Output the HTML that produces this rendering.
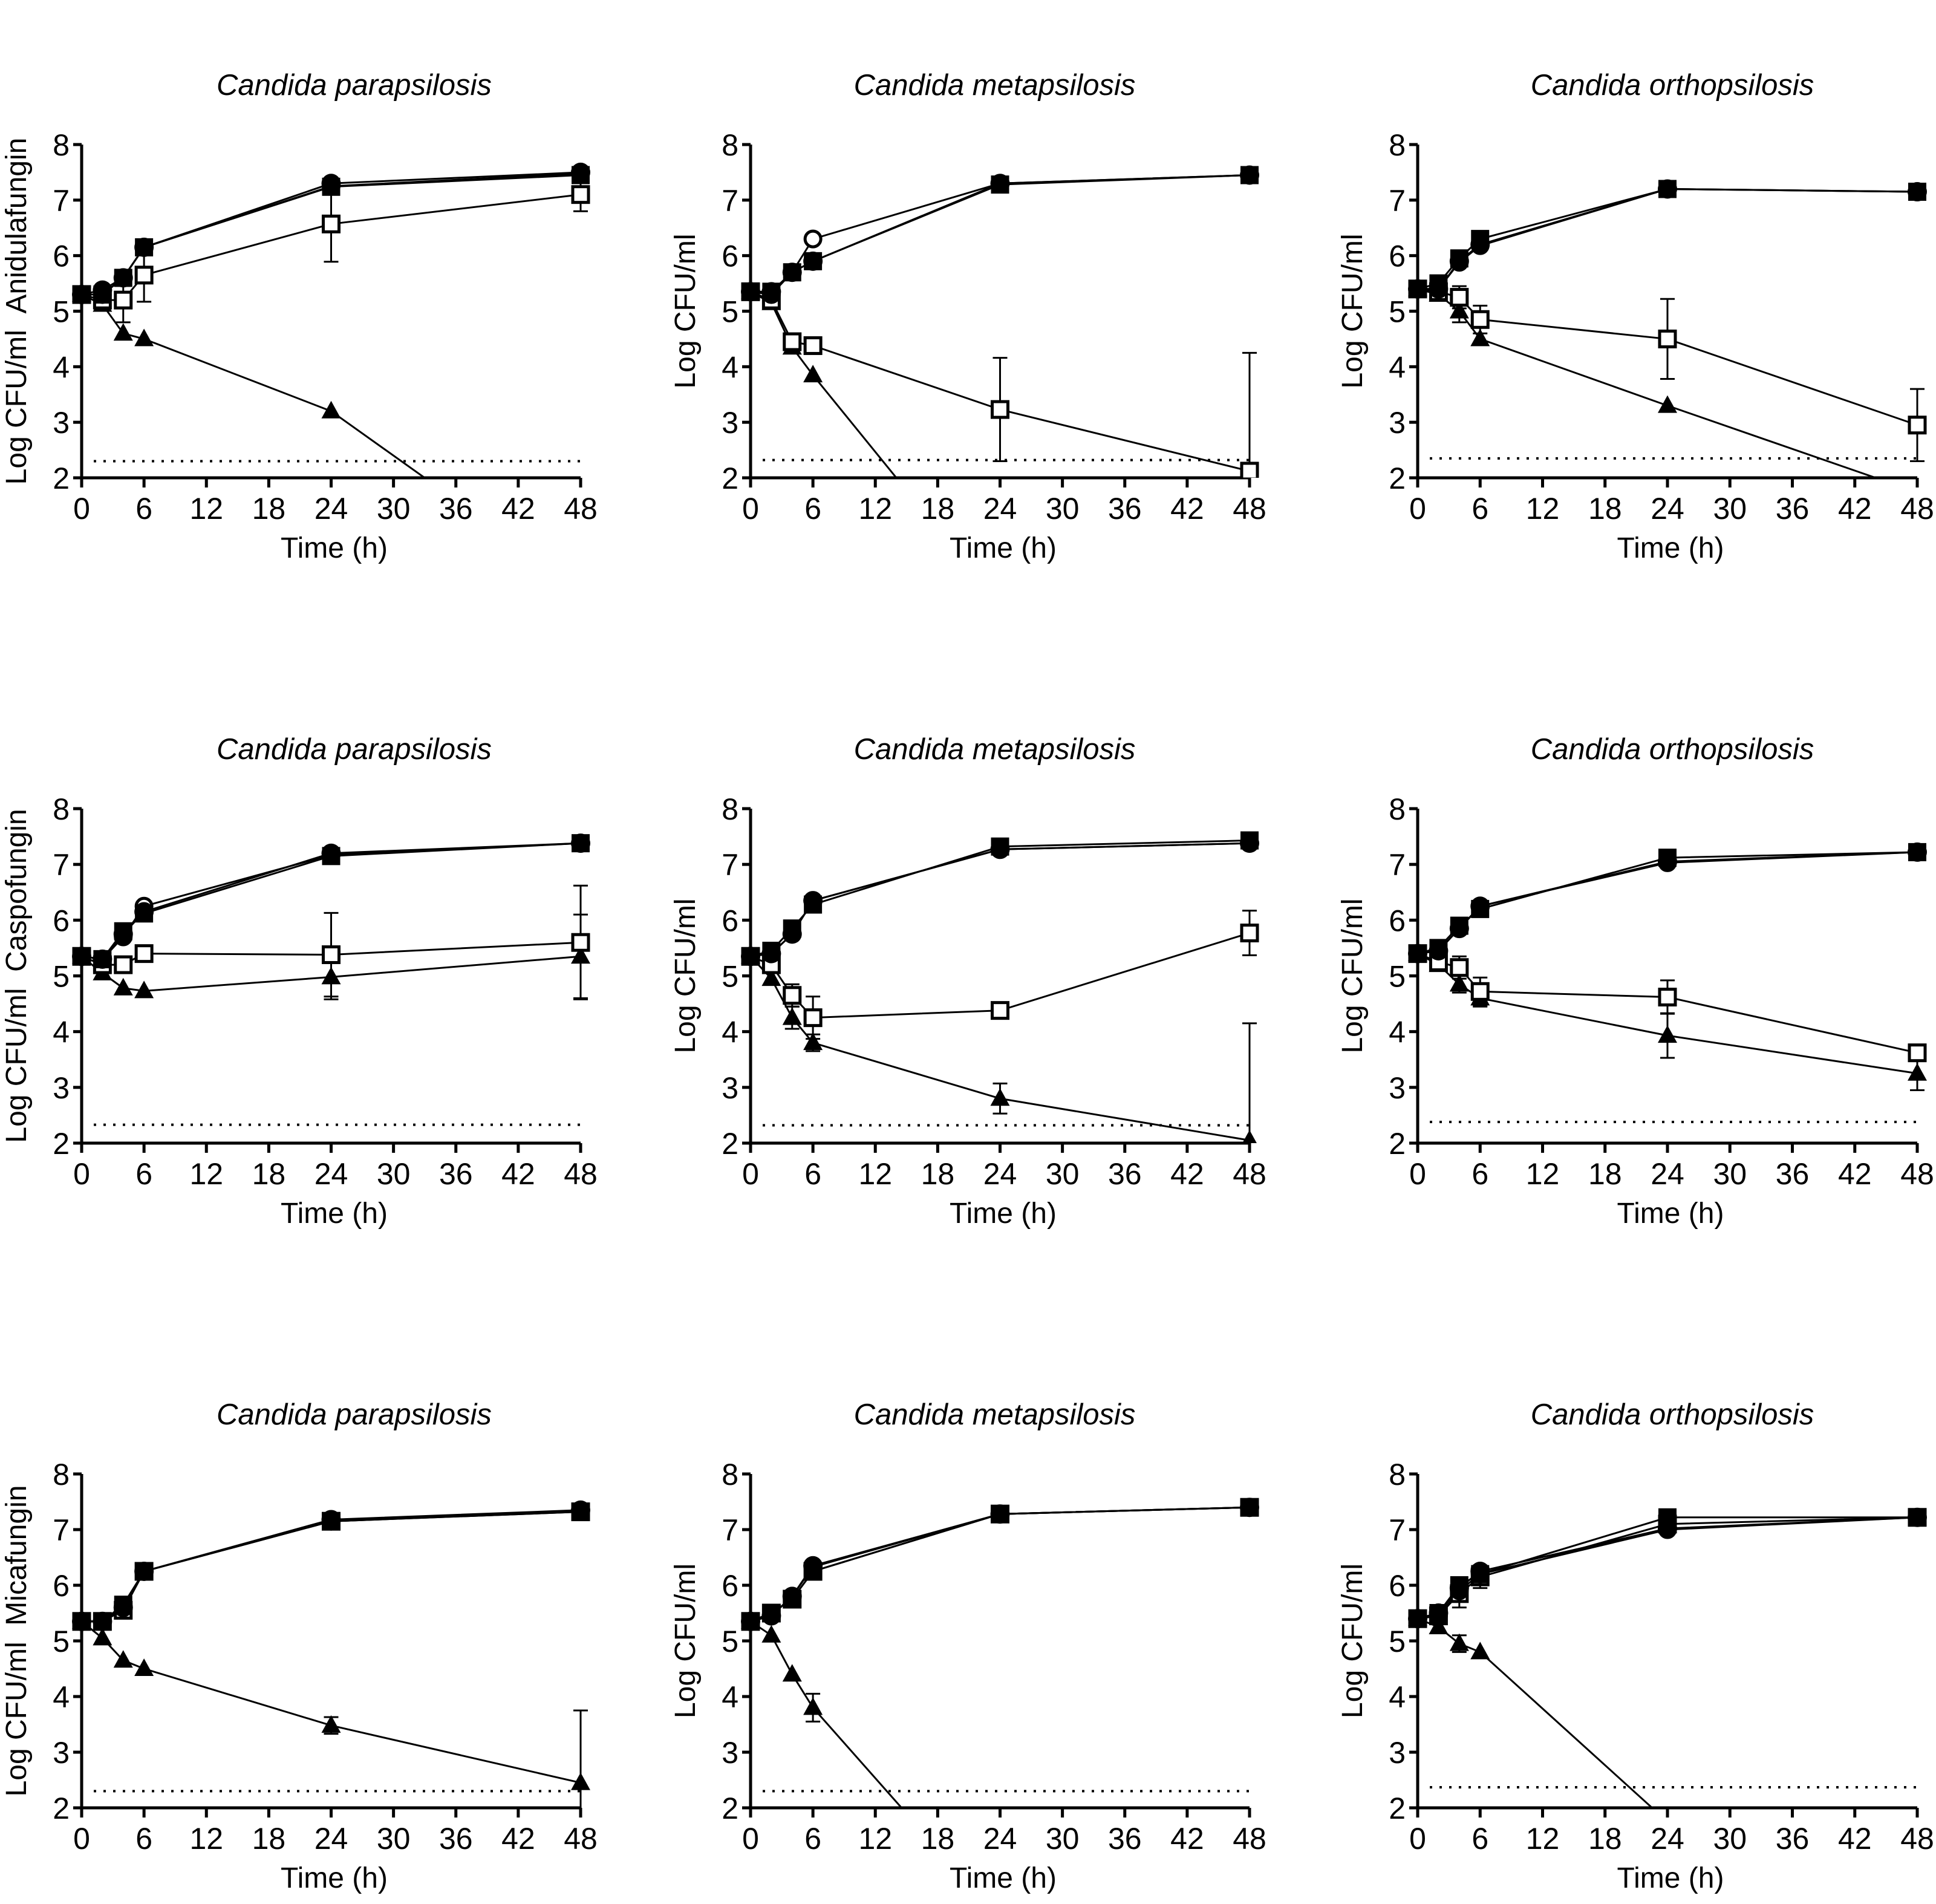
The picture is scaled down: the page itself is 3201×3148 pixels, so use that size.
<!DOCTYPE html>
<html><head><meta charset="utf-8"><style>
html,body{margin:0;padding:0;background:#fff;}
svg{display:block;font-family:"Liberation Sans",Arial,sans-serif;}
</style></head><body>
<svg id="fig" width="3201" height="3148" viewBox="0 0 3201 3148" xmlns="http://www.w3.org/2000/svg"></svg>
<script>
// ---------- data ----------
const times = [0, 2, 4, 6, 24, 48];
const xTicks = [0, 6, 12, 18, 24, 30, 36, 42, 48];
const yTicks = [2, 3, 4, 5, 6, 7, 8];
const species = ["Candida parapsilosis", "Candida metapsilosis", "Candida orthopsilosis"];
const drugs = ["Anidulafungin", "Caspofungin", "Micafungin"];
const detectionLimit = [2.3, 2.32, 2.35, 2.33, 2.32, 2.38, 2.3, 2.3, 2.37];

// panel 1: C. parapsilosis / anidulafungin
const p1FilledCircle = [5.3, 5.38, 5.6, 6.15, 7.3, 7.5];
const p1OpenCircle   = [5.3, 5.3, 5.6, 6.15, 7.25, 7.48];
const p1FilledSquare = [5.3, 5.3, 5.6, 6.15, 7.24, 7.45];
const p1OpenSquare   = [5.3, 5.2, 5.2, 5.65, 6.57, 7.1];
const p1Triangle     = [5.3, 5.12, 4.6, 4.5, 3.2, 0.0];
const p1SquareErr    = [0, 0, 0.4, 0.48, 0.68, 0.3];
const p1TriErr       = [0, 0, 0, 0, 0, 0];
// panel 2: C. metapsilosis / anidulafungin
const p2FilledCircle = [5.35, 5.35, 5.7, 5.9, 7.3, 7.45];
const p2OpenCircle   = [5.35, 5.3, 5.7, 6.3, 7.3, 7.45];
const p2FilledSquare = [5.35, 5.35, 5.7, 5.9, 7.28, 7.45];
const p2OpenSquare   = [5.35, 5.2, 4.45, 4.38, 3.23, 2.12];
const p2Triangle     = [5.35, 5.15, 4.35, 3.85, -0.3, -0.3];
const p2SquareErr    = [0, 0, 0, 0, 0.93, 2.13];
const p2TriErr       = [0, 0, 0, 0, 0, 0];
// panel 3: C. orthopsilosis / anidulafungin
const p3FilledCircle = [5.4, 5.4, 5.9, 6.2, 7.2, 7.15];
const p3OpenCircle   = [5.4, 5.4, 5.88, 6.18, 7.2, 7.15];
const p3FilledSquare = [5.4, 5.5, 5.95, 6.3, 7.2, 7.15];
const p3OpenSquare   = [5.4, 5.35, 5.25, 4.85, 4.5, 2.95];
const p3Triangle     = [5.4, 5.3, 5.0, 4.5, 3.3, 1.74];
const p3SquareErr    = [0, 0, 0.2, 0.25, 0.72, 0.65];
const p3TriErr       = [0, 0, 0.2, 0, 0, 0];
// panel 4: C. parapsilosis / caspofungin
const p4FilledCircle = [5.35, 5.3, 5.75, 6.15, 7.2, 7.38];
const p4OpenCircle   = [5.35, 5.3, 5.7, 6.25, 7.17, 7.38];
const p4FilledSquare = [5.35, 5.3, 5.8, 6.12, 7.15, 7.38];
const p4OpenSquare   = [5.35, 5.2, 5.2, 5.4, 5.38, 5.6];
const p4Triangle     = [5.35, 5.05, 4.78, 4.73, 4.98, 5.35];
const p4SquareErr    = [0, 0, 0, 0.1, 0.75, 1.02];
const p4TriErr       = [0, 0, 0, 0, 0.4, 0.75];
// panel 5: C. metapsilosis / caspofungin
const p5FilledCircle = [5.35, 5.4, 5.75, 6.35, 7.27, 7.38];
const p5OpenCircle   = [5.35, 5.4, 5.75, 6.35, 7.27, 7.38];
const p5FilledSquare = [5.35, 5.45, 5.85, 6.28, 7.32, 7.43];
const p5OpenSquare   = [5.35, 5.2, 4.65, 4.25, 4.38, 5.77];
const p5Triangle     = [5.35, 4.95, 4.25, 3.8, 2.8, 2.05];
const p5SquareErr    = [0, 0, 0.2, 0.38, 0, 0.4];
const p5TriErr       = [0, 0, 0.2, 0.15, 0.27, 2.1];
// panel 6: C. orthopsilosis / caspofungin
const p6FilledCircle = [5.4, 5.45, 5.85, 6.25, 7.05, 7.22];
const p6OpenCircle   = [5.4, 5.45, 5.85, 6.25, 7.03, 7.22];
const p6FilledSquare = [5.4, 5.5, 5.9, 6.2, 7.12, 7.22];
const p6OpenSquare   = [5.4, 5.25, 5.15, 4.72, 4.62, 3.62];
const p6Triangle     = [5.4, 5.2, 4.85, 4.6, 3.93, 3.25];
const p6SquareErr    = [0, 0, 0.2, 0.25, 0.3, 0];
const p6TriErr       = [0, 0, 0.15, 0.15, 0.4, 0.3];
// panel 7: C. parapsilosis / micafungin
const p7FilledCircle = [5.35, 5.35, 5.6, 6.25, 7.18, 7.35];
const p7OpenCircle   = [5.35, 5.35, 5.6, 6.25, 7.15, 7.33];
const p7FilledSquare = [5.35, 5.35, 5.65, 6.25, 7.15, 7.32];
const p7OpenSquare   = [5.35, 5.35, 5.55, 6.25, 7.15, 7.32];
const p7Triangle     = [5.35, 5.05, 4.65, 4.5, 3.48, 2.45];
const p7SquareErr    = [0, 0, 0.1, 0, 0, 0];
const p7TriErr       = [0, 0, 0, 0, 0.15, 1.3];
// panel 8: C. metapsilosis / micafungin
const p8FilledCircle = [5.35, 5.45, 5.8, 6.35, 7.28, 7.4];
const p8OpenCircle   = [5.35, 5.45, 5.8, 6.33, 7.28, 7.4];
const p8FilledSquare = [5.35, 5.5, 5.75, 6.25, 7.28, 7.4];
const p8OpenSquare   = [5.35, 5.5, 5.75, 6.25, 7.28, 7.4];
const p8Triangle     = [5.35, 5.1, 4.4, 3.8, 0.0, 0.0];
const p8SquareErr    = [0, 0, 0, 0, 0, 0];
const p8TriErr       = [0, 0, 0, 0.25, 0, 0];
// panel 9: C. orthopsilosis / micafungin
const p9FilledCircle = [5.4, 5.5, 5.95, 6.25, 7.02, 7.22];
const p9OpenCircle   = [5.4, 5.45, 5.9, 6.2, 7.0, 7.22];
const p9FilledSquare = [5.4, 5.5, 6.0, 6.2, 7.22, 7.22];
const p9OpenSquare   = [5.4, 5.45, 5.85, 6.15, 7.1, 7.22];
const p9Triangle     = [5.4, 5.25, 4.95, 4.8, 1.75, 1.75];
const p9SquareErr    = [0, 0, 0.25, 0.2, 0, 0];
const p9TriErr       = [0, 0, 0.15, 0, 0, 0];

const panelData = [
 [p1FilledCircle,p1OpenCircle,p1FilledSquare,p1OpenSquare,p1Triangle,p1SquareErr,p1TriErr],
 [p2FilledCircle,p2OpenCircle,p2FilledSquare,p2OpenSquare,p2Triangle,p2SquareErr,p2TriErr],
 [p3FilledCircle,p3OpenCircle,p3FilledSquare,p3OpenSquare,p3Triangle,p3SquareErr,p3TriErr],
 [p4FilledCircle,p4OpenCircle,p4FilledSquare,p4OpenSquare,p4Triangle,p4SquareErr,p4TriErr],
 [p5FilledCircle,p5OpenCircle,p5FilledSquare,p5OpenSquare,p5Triangle,p5SquareErr,p5TriErr],
 [p6FilledCircle,p6OpenCircle,p6FilledSquare,p6OpenSquare,p6Triangle,p6SquareErr,p6TriErr],
 [p7FilledCircle,p7OpenCircle,p7FilledSquare,p7OpenSquare,p7Triangle,p7SquareErr,p7TriErr],
 [p8FilledCircle,p8OpenCircle,p8FilledSquare,p8OpenSquare,p8Triangle,p8SquareErr,p8TriErr],
 [p9FilledCircle,p9OpenCircle,p9FilledSquare,p9OpenSquare,p9Triangle,p9SquareErr,p9TriErr]
];

// ---------- layout ----------
const colX0 = [135, 1241, 2344];
const colX1 = [960, 2066, 3170];
const titleShift = [38, -9, 8];
const rowY8 = [239, 1337, 2437];
const rowY2 = [790, 1890, 2989];
const NS = "http://www.w3.org/2000/svg";
const svg = document.getElementById("fig");

function mk(tag, attrs, parent) {
  const e = document.createElementNS(NS, tag);
  for (const k in attrs) e.setAttribute(k, attrs[k]);
  (parent || svg).appendChild(e);
  return e;
}

for (let p = 0; p < 9; p++) {
  const r = Math.floor(p / 3), c = p % 3;
  const x0 = colX0[c], x1 = colX1[c], yT = rowY8[r], yB = rowY2[r];
  const sx = t => x0 + (t / 48) * (x1 - x0);
  const sy = v => yB - ((v - 2) / 6) * (yB - yT);
  const g = mk("g", {});
  
  

  const clipId = "clip" + p;
  const cp = mk("clipPath", {id: clipId}, g);
  mk("rect", {x: x0 - 30, y: yT - 40, width: x1 - x0 + 60, height: yB - yT + 40}, cp);

  const title = mk("text", {x: (x0 + x1) / 2 + titleShift[c], y: yT - 82, "text-anchor": "middle", "font-size": 49, "font-style": "italic"}, g);
  title.textContent = species[c];
  
  

  // axes
  const ax = mk("path", {d: `M${x0},${yT} L${x0},${yB} L${x1},${yB}`, fill: "none", stroke: "#000", "stroke-width": 5}, g);
  
  
  for (const t of xTicks) {
    mk("line", {x1: sx(t), x2: sx(t), y1: yB, y2: yB + 16, stroke: "#000", "stroke-width": 5}, g);
    const tl = mk("text", {x: sx(t), y: yB + 68, "text-anchor": "middle", "font-size": 50}, g);
    tl.textContent = t;
    
    
  }
  for (const v of yTicks) {
    mk("line", {x1: x0 - 14, x2: x0, y1: sy(v), y2: sy(v), stroke: "#000", "stroke-width": 5}, g);
    const tl = mk("text", {x: x0 - 20, y: sy(v) + 18, "text-anchor": "end", "font-size": 50}, g);
    tl.textContent = v;
    
    
  }
  const xl = mk("text", {x: (x0 + x1) / 2 + 5, y: yB + 132, "text-anchor": "middle", "font-size": 48}, g);
  xl.textContent = "Time (h)";
  
  
  const ly = (yT + yB) / 2, lx = x0 - 92;
  const yl = mk("text", {x: lx, y: ly, "text-anchor": "middle", "font-size": 48, transform: `rotate(-90 ${lx} ${ly})`}, g);
  yl.textContent = c === 0 ? "Log CFU/ml\u00a0\u00a0" + drugs[r] : "Log CFU/ml";
  
  

  // detection limit
  const dl = mk("line", {x1: x0 + 20, x2: x1, y1: sy(detectionLimit[p]), y2: sy(detectionLimit[p]), stroke: "#000", "stroke-width": 4, "stroke-dasharray": "4 12"}, g);
  
  

  const d = panelData[p];
  const plot = mk("g", {"clip-path": `url(#${clipId})`}, g);
  const kinds = ["filled-circle", "open-circle", "filled-square", "open-square", "triangle"];
  // error bars
  const errs = [[3, d[5]], [4, d[6]]];
  for (const [si, e] of errs) {
    times.forEach((t, i) => {
      if (!e[i]) return;
      const v = d[si][i];
      const eb = mk("path", {d: `M${sx(t)},${sy(v - e[i])} L${sx(t)},${sy(v + e[i])} M${sx(t) - 12},${sy(v - e[i])} L${sx(t) + 12},${sy(v - e[i])} M${sx(t) - 12},${sy(v + e[i])} L${sx(t) + 12},${sy(v + e[i])}`, stroke: "#000", "stroke-width": 3, fill: "none"}, plot);
      
      
    });
  }
  for (let s = 0; s < 5; s++) {
    const vals = d[s];
    const pts = times.map((t, i) => `${sx(t)},${sy(vals[i])}`).join(" ");
    const ln = mk("polyline", {points: pts, fill: "none", stroke: "#000", "stroke-width": 3}, plot);
    
    
  }
  const drawOrder = [4, 3, 1, 2, 0];
  for (const s of drawOrder) {
    const vals = d[s];
    times.forEach((t, i) => {
      const v = vals[i];
      if (v < 1.9) return;
      const X = sx(t), Y = sy(v);
      let m;
      if (s === 0) m = mk("circle", {cx: X, cy: Y, r: 16, fill: "#000"}, plot);
      else if (s === 1) m = mk("circle", {cx: X, cy: Y, r: 13, fill: "#fff", stroke: "#000", "stroke-width": 5}, plot);
      else if (s === 2) m = mk("rect", {x: X - 15, y: Y - 15, width: 30, height: 30, fill: "#000"}, plot);
      else if (s === 3) m = mk("rect", {x: X - 13, y: Y - 13, width: 26, height: 26, fill: "#fff", stroke: "#000", "stroke-width": 5}, plot);
      else m = mk("polygon", {points: `${X},${Y - 17} ${X - 16},${Y + 12} ${X + 16},${Y + 12}`, fill: "#000"}, plot);
      
      
    });
  }
}
</script>
</body></html>
